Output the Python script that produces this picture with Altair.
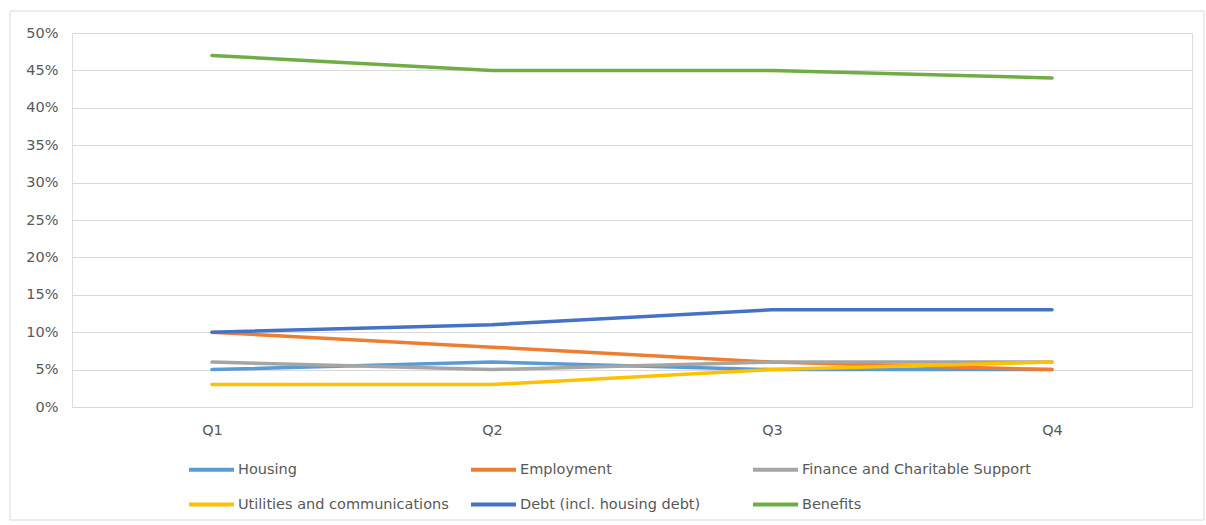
import altair as alt
import pandas as pd

quarters = ["Q1", "Q2", "Q3", "Q4"]
series_names = [
    "Housing",
    "Employment",
    "Finance and Charitable Support",
    "Utilities and communications",
    "Debt (incl. housing debt)",
    "Benefits",
]
housing = [0.05, 0.06, 0.05, 0.05]
employment = [0.10, 0.08, 0.06, 0.05]
finance = [0.06, 0.05, 0.06, 0.06]
utilities = [0.03, 0.03, 0.05, 0.06]
debt = [0.10, 0.11, 0.13, 0.13]
benefits = [0.47, 0.45, 0.45, 0.44]
colors = ["#5B9BD5", "#ED7D31", "#A5A5A5", "#FFC000", "#4472C4", "#70AD47"]

values = [housing, employment, finance, utilities, debt, benefits]
rows = []
for i, (name, vals) in enumerate(zip(series_names, values)):
    for q, v in zip(quarters, vals):
        rows.append({"Quarter": q, "Series": name, "Value": v, "order": i})
df = pd.DataFrame(rows)

FONT = "DejaVu Sans"
TXT = "#595959"
FS = 14.5

lines = alt.Chart(df).mark_line(strokeWidth=3.5, strokeCap="round", strokeJoin="round").encode(
    x=alt.X("Quarter:N", sort=quarters, title=None,
            scale=alt.Scale(type="point", padding=0.5),
            axis=alt.Axis(labelAngle=0, ticks=False, domain=True, domainColor="#d9d9d9",
                          labelColor=TXT, labelFontSize=FS, labelFont=FONT, labelPadding=16)),
    y=alt.Y("Value:Q", title=None,
            scale=alt.Scale(domain=[0, 0.5], nice=False),
            axis=alt.Axis(format=".0%", values=[i * 0.05 for i in range(11)], ticks=False,
                          domain=False, gridColor="#d9d9d9", labelColor=TXT, labelFontSize=FS,
                          labelFont=FONT, labelPadding=14)),
    color=alt.Color("Series:N", sort=series_names,
                    scale=alt.Scale(domain=series_names, range=colors),
                    legend=alt.Legend(title=None, orient="none", legendX=115, legendY=412,
                                      direction="horizontal",
                                      columns=3, gridAlign="all", symbolType="stroke",
                                      symbolSize=2025, symbolStrokeWidth=4,
                                      labelFont=FONT, labelFontSize=FS, labelColor=TXT,
                                      labelOffset=2, columnPadding=-4, rowPadding=2,
                                      labelLimit=400)),
    order=alt.Order("order:Q"),
    detail="Series:N",
)

border = alt.Chart(pd.DataFrame({"a": [0]})).mark_rect(
    fill=None, stroke="#d9d9d9", strokeWidth=1
).encode(
    x=alt.value(-62), x2=alt.value(1132), y=alt.value(-22), y2=alt.value(487)
)

chart = alt.layer(border, lines).properties(
    width=1120, height=374,
    autosize=alt.AutoSizeParams(type="none"),
    padding={"left": 72, "top": 33, "right": 14, "bottom": 118},
).configure_view(stroke=None).configure(background="white")

chart.save("out.html", embed_options={"renderer": "svg", "actions": False})
